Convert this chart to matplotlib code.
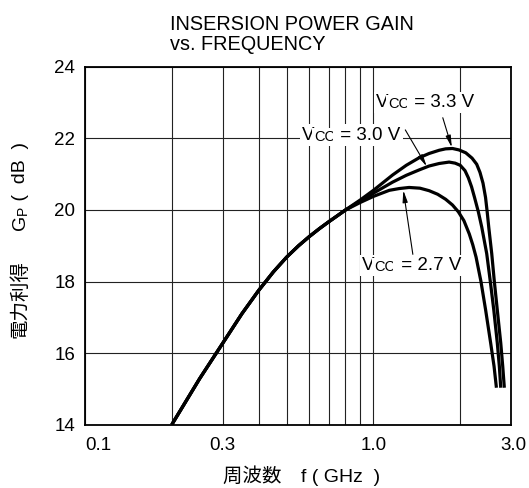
import matplotlib
matplotlib.use('Agg')
import matplotlib.pyplot as plt
from matplotlib.transforms import ScaledTranslation

plt.rcParams['font.family'] = ['Liberation Sans', 'Noto Sans CJK JP']

# shared low-frequency part (all three supply voltages overlap)
common_freq = [0.2, 0.25, 0.3, 0.35, 0.4, 0.45, 0.5, 0.55, 0.6, 0.65, 0.7, 0.75, 0.8]
common_gain = [14.0, 15.29, 16.27, 17.1, 17.75, 18.27, 18.68, 19.0, 19.26, 19.48, 19.67, 19.84, 20.0]

# Vcc = 3.3 V
freq_33 = [0.9, 1.0, 1.166, 1.3, 1.44, 1.56, 1.69, 1.78, 1.88, 1.98, 2.09, 2.198, 2.281, 2.342,
           2.399, 2.448, 2.48, 2.513, 2.572, 2.626, 2.689, 2.764, 2.808, 2.844]
gain_33 = [20.28, 20.55, 20.98, 21.25, 21.46, 21.58, 21.67, 21.71, 21.72, 21.68, 21.6, 21.45, 21.28, 21.05,
           20.75, 20.35, 19.95, 19.5, 18.78, 18.0, 17.2, 16.28, 15.63, 15.03]

# Vcc = 3.0 V
freq_30 = [0.9, 1.0, 1.166, 1.3, 1.44, 1.56, 1.69, 1.83, 1.92, 2.0, 2.078, 2.134, 2.189, 2.242,
           2.311, 2.375, 2.471, 2.543, 2.615, 2.689, 2.733, 2.764]
gain_30 = [20.25, 20.47, 20.78, 20.97, 21.12, 21.23, 21.3, 21.34, 21.31, 21.25, 21.1, 20.9, 20.65, 20.35,
           19.95, 19.52, 18.78, 18.0, 17.2, 16.28, 15.63, 15.03]

# Vcc = 2.7 V
freq_27 = [0.9, 1.0, 1.135, 1.23, 1.33, 1.45, 1.56, 1.67, 1.78, 1.88, 1.97, 2.06, 2.15, 2.21,
           2.27, 2.36, 2.45, 2.55, 2.62, 2.67]
gain_27 = [20.21, 20.38, 20.55, 20.6, 20.63, 20.61, 20.54, 20.44, 20.3, 20.14, 19.95, 19.7, 19.33, 19.03,
           18.68, 18.0, 17.2, 16.28, 15.63, 15.03]

x_ticks = [0.1, 0.3, 1.0, 3.0]
x_tick_labels = ['0.1', '0.3', '1.0', '3.0']
x_grid = [0.2, 0.3, 0.4, 0.5, 0.6, 0.7, 0.8, 0.9, 1.0, 2.0]
y_ticks = [14, 16, 18, 20, 22, 24]

# label value, text anchor (left, baseline), arrow tail, arrow tip
vcc_labels = [
    ('3.3', (1.02, 22.88), (1.74, 22.58), (1.87, 21.75)),
    ('3.0', (0.565, 21.97), (1.29, 22.24), (1.53, 21.22)),
    ('2.7', (0.913, 18.33), (1.37, 18.76), (1.27, 20.55)),
]

fig = plt.figure(figsize=(5.29, 4.88), dpi=100)
ax = fig.add_axes([0.1607, 0.130, 0.8053, 0.7328])

for f, g in [(freq_33, gain_33), (freq_30, gain_30), (freq_27, gain_27)]:
    ax.plot(common_freq + f, common_gain + g, color='black', lw=2.3,
            solid_joinstyle='round', solid_capstyle='butt', zorder=4)

ax.set_xscale('log')
ax.set_xlim(0.1, 3.0)
ax.set_ylim(14, 24)
ax.set_xticks(x_ticks)
ax.set_xticklabels(x_tick_labels)
ax.set_xticks(x_grid, minor=True)
ax.xaxis.set_minor_formatter(plt.NullFormatter())
ax.set_yticks(y_ticks)
ax.grid(True, which='both', axis='x', color='#222222', lw=0.8)
ax.grid(True, which='major', axis='y', color='#222222', lw=0.8)
ax.tick_params(which='both', length=0, labelsize=13.5)
ax.tick_params(axis='x', pad=9)
ax.tick_params(axis='y', pad=7)
for s in ax.spines.values():
    s.set_linewidth(1.3)

labels = ax.get_xticklabels()
labels[0].set_ha('left')
labels[-1].set_transform(labels[-1].get_transform() + ScaledTranslation(2 / 72, 0, fig.dpi_scale_trans))

# Vcc labels: big V, small CC, then the value
box = dict(fc='white', ec='none', pad=1.5)
for value, pos, tail, tip in vcc_labels:
    t1 = ax.text(pos[0], pos[1], 'V', fontsize=13.5, ha='left', va='baseline', bbox=box, zorder=5)
    t2 = ax.annotate('CC', xy=(1, 0), xycoords=t1, fontsize=10.5, ha='left', va='bottom', bbox=box, zorder=5)
    ax.annotate(' = ' + value + ' V', xy=(1, 0), xycoords=t2, fontsize=13.5, ha='left', va='bottom',
                bbox=box, zorder=5)
    ax.annotate('', xy=tip, xytext=tail,
                arrowprops=dict(arrowstyle='-|>,head_length=0.7,head_width=0.15', color='black',
                                lw=0.8, shrinkA=0, shrinkB=0), zorder=6)

fig.text(0.321, 0.970, 'INSERSION POWER GAIN\nvs. FREQUENCY', fontsize=14.3, ha='left', va='top',
         linespacing=1.1)

fig.text(0.571, 0.025, '周波数　f ( GHz  )', fontsize=14, ha='center', va='center')

# y label: 電力利得 Gp (dB), rotated, with small P
y1 = fig.text(0.038, 0.307, '電力利得', fontsize=14, rotation=90, ha='center', va='bottom')
y2 = plt.annotate('G', xy=(1, 1), xycoords=y1, xytext=(0, 30), textcoords='offset pixels',
                  fontsize=14, rotation=90, ha='right', va='bottom', annotation_clip=False)
y3 = plt.annotate('P', xy=(1, 1), xycoords=y2, fontsize=10, rotation=90, ha='right', va='bottom',
                  annotation_clip=False)
plt.annotate(' (  dB  )', xy=(1, 1), xycoords=y3, fontsize=14, rotation=90, ha='right', va='bottom',
             annotation_clip=False)

fig.savefig('out.png', dpi=100)
